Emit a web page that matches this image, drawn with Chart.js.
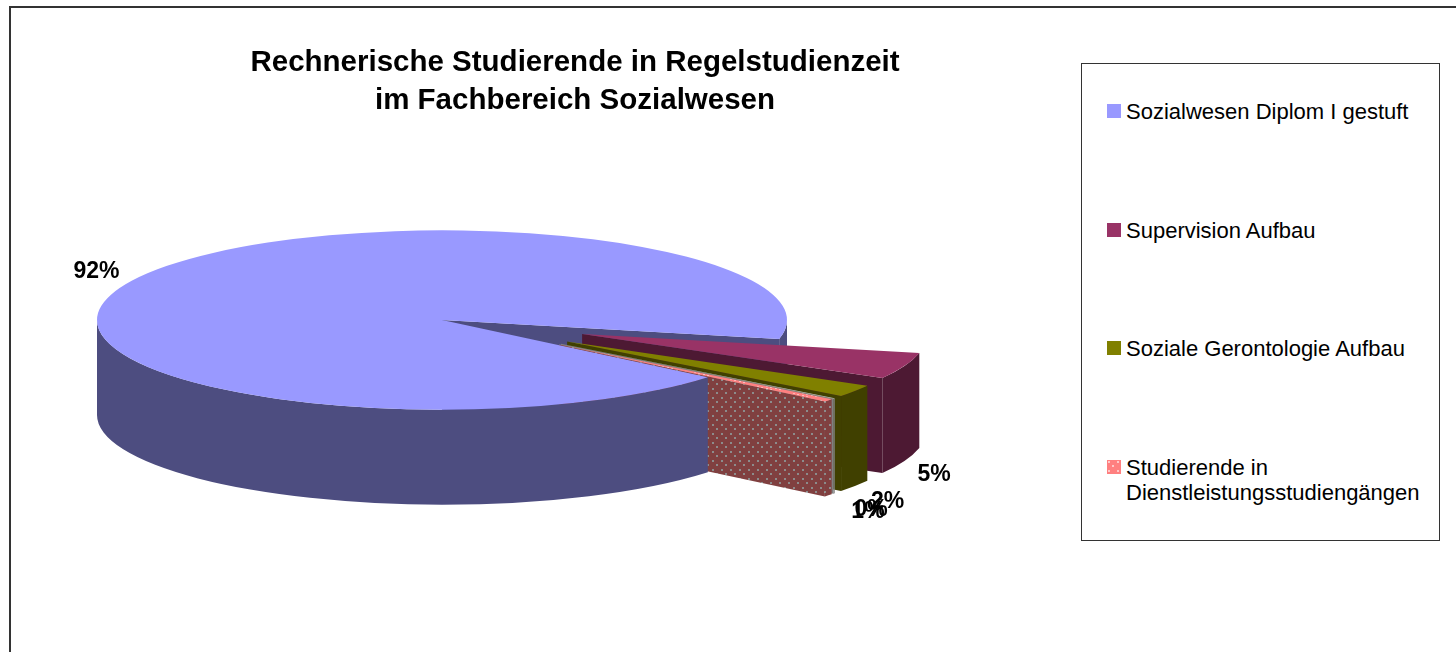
<!DOCTYPE html>
<html>
<head>
<meta charset="utf-8">
<script src="https://cdn.jsdelivr.net/npm/chart.js@4"></script>
<style>
  html, body { margin: 0; padding: 0; background: #fff; overflow: hidden; }
  #wrap { position: relative; width: 1456px; height: 652px; overflow: hidden; }
  #frame { position: absolute; left: 9px; top: 6px; width: 1500px; height: 700px; border: 2px solid #333; box-sizing: border-box; }
  canvas { position: absolute; left: 0; top: 0; }
  #legend { position: absolute; left: 1081px; top: 63px; width: 359px; height: 478px; border: 1px solid #333; box-sizing: border-box; background: #fff;
    font-family: "Liberation Sans", Arial, sans-serif; font-size: 22px; line-height: 25px; color: #000; padding-top: 35px; }
  .item { position: relative; padding-left: 44px; margin-bottom: 93.5px; }
  .swatch { position: absolute; left: 25px; top: 5px; width: 14px; height: 14px; }
</style>
</head>
<body>
<div id="wrap">
  <div id="frame"></div>
  <canvas id="chart" width="1456" height="652"></canvas>
  <div id="legend"></div>
</div>
<script>
// the 0% slice has no entry in the legend of the original
const categories = ['Sozialwesen Diplom I gestuft', 'Supervision Aufbau', 'Soziale Gerontologie Aufbau', '', 'Studierende in Dienstleistungsstudiengängen'];
const shares = [92.4, 4.8, 2.2, 0.1, 0.5];
const titleLines = ['Rechnerische Studierende in Regelstudienzeit', 'im Fachbereich Sozialwesen'];

const topColors = ['#9999FF', '#993366', '#808000', '#C0C0C0', '#FF8080'];
const wallColors = ['#4D4D80', '#4D1933', '#404000', '#808080', '#804040'];
const explode = [0, 150, 150, 150, 150];
const labelShiftX = [-1, -6, 1, 7, 10];
const labelShiftY = [0, 2, 2, 2, 2];

const squash = 0.26;
const depth = 95;
const cy = 320;
const pieRadius = 345;

function dots(base, dot) {
  const c = document.createElement('canvas');
  c.width = 9; c.height = 9;
  const x = c.getContext('2d');
  x.fillStyle = base; x.fillRect(0, 0, 9, 9);
  x.fillStyle = dot;
  x.fillRect(1, 1, 2, 2);
  x.fillRect(5, 5, 2, 2);
  return c;
}

const ctx = document.getElementById('chart').getContext('2d');
const pinkTop = ctx.createPattern(dots('#FF8080', '#FFC0C0'), 'repeat');
const pinkWall = ctx.createPattern(dots('#804040', '#8C8C8C'), 'repeat');

// legend box
categories.forEach((name, i) => {
  if (!name) return;
  const item = document.createElement('div');
  item.className = 'item';
  const sw = document.createElement('span');
  sw.className = 'swatch';
  if (i === 4) {
    sw.style.background = 'url(' + dots('#FF8080', '#FFC8C8').toDataURL() + ')';
  } else {
    sw.style.background = topColors[i];
  }
  item.appendChild(sw);
  item.appendChild(document.createTextNode(i === 4 ? 'Studierende in' : name));
  if (i === 4) {
    item.appendChild(document.createElement('br'));
    item.appendChild(document.createTextNode('Dienstleistungsstudiengängen'));
  }
  document.getElementById('legend').appendChild(item);
});

let baseY = 0;

// where a slice sits on the screen once the pie is tilted
function apex(arc) {
  return { x: arc.x, y: cy + (arc.y - baseY) * squash };
}

function rimWall(c, arc, from, to, fill) {
  if (to <= from) return;
  const a = apex(arc), r = arc.outerRadius;
  c.beginPath();
  c.ellipse(a.x, a.y, r, r * squash, 0, from, to);
  c.ellipse(a.x, a.y + depth, r, r * squash, 0, to, from, true);
  c.closePath();
  c.fillStyle = fill;
  c.fill();
}

function cutWall(c, arc, angle, fill) {
  const a = apex(arc), r = arc.outerRadius;
  const rx = a.x + Math.cos(angle) * r, ry = a.y + Math.sin(angle) * r * squash;
  c.beginPath();
  c.moveTo(a.x, a.y);
  c.lineTo(rx, ry);
  c.lineTo(rx, ry + depth);
  c.lineTo(a.x, a.y + depth);
  c.closePath();
  c.fillStyle = fill;
  c.fill();
}

const tiltPlugin = {
  id: 'tilt',
  afterLayout(chart) {
    // the title is centred over the plot side, not the whole frame
    chart.titleBlock.right = 1150;
  },
  afterDatasetsUpdate(chart) {
    // pull the small slices out along their middle
    const arcs = chart.getDatasetMeta(0).data;
    baseY = arcs[0].y;
    arcs.forEach((arc, i) => {
      const mid = (arc.startAngle + arc.endAngle) / 2;
      arc.x += Math.cos(mid) * explode[i];
      arc.y += Math.sin(mid) * explode[i];
    });
  },
  beforeDatasetsDraw(chart) {
    const c = chart.ctx;
    const arcs = chart.getDatasetMeta(0).data;
    const big = arcs[0];
    const TAU = Math.PI * 2;
    const wall = i => (i === 4 ? pinkWall : wallColors[i]);

    // back part of the big slice
    cutWall(c, big, big.endAngle, wallColors[0]);
    rimWall(c, big, TAU, big.endAngle, wallColors[0]);

    // pulled out slices
    for (let i = 1; i < arcs.length; i++) {
      rimWall(c, arcs[i], arcs[i].startAngle, arcs[i].endAngle, wall(i));
      cutWall(c, arcs[i], arcs[i].endAngle, wall(i));
    }

    // front of the big slice comes over them
    rimWall(c, big, big.startAngle, Math.PI, wallColors[0]);

    c.save();
    c.translate(0, cy);
    c.scale(1, squash);
    c.translate(0, -baseY);
  },
  afterDatasetsDraw(chart) {
    const c = chart.ctx;
    c.restore();

    const arcs = chart.getDatasetMeta(0).data;
    c.font = 'bold 23px "Liberation Sans", Arial, sans-serif';
    c.fillStyle = '#000';
    c.textAlign = 'center';
    c.textBaseline = 'middle';
    arcs.forEach((arc, i) => {
      const mid = (arc.startAngle + arc.endAngle) / 2;
      const a = apex(arc), r = arc.outerRadius + 38;
      const low = Math.sin(mid) > 0;
      const x = a.x + Math.cos(mid) * r + labelShiftX[i];
      const y = a.y + Math.sin(mid) * r * squash + (low ? depth + 8 : -5) + labelShiftY[i];
      c.fillText(Math.round(shares[i]) + '%', x, y);
    });
  }
};

new Chart(ctx, {
  type: 'pie',
  data: {
    labels: categories,
    datasets: [{
      data: shares,
      backgroundColor: [topColors[0], topColors[1], topColors[2], topColors[3], pinkTop],
      borderWidth: 0
    }]
  },
  options: {
    responsive: false,
    animation: false,
    rotation: 129.6,
    radius: pieRadius,
    layout: { padding: { right: 572, bottom: 126 } },
    plugins: {
      legend: { display: false },
      tooltip: { enabled: false },
      title: {
        display: true,
        text: titleLines,
        color: '#000',
        font: { family: '"Liberation Sans", Arial, sans-serif', size: 29.5, weight: 'bold', lineHeight: 1.29 },
        padding: { top: 44, bottom: 0 }
      }
    }
  },
  plugins: [tiltPlugin]
});
</script>
</body>
</html>
